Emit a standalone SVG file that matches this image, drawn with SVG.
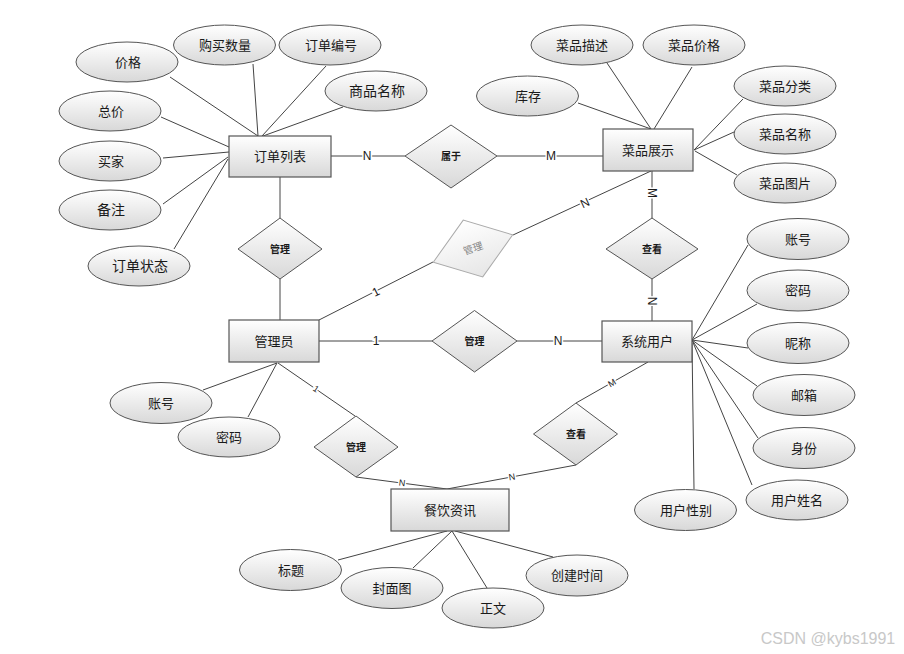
<svg xmlns="http://www.w3.org/2000/svg" width="904" height="654" viewBox="0 0 904 654">
<defs>
<linearGradient id="g" x1="0" y1="0" x2="0" y2="1">
<stop offset="0" stop-color="#ffffff"/>
<stop offset="1" stop-color="#d8d8d8"/>
</linearGradient>
<linearGradient id="gl" x1="0" y1="0" x2="0" y2="1">
<stop offset="0" stop-color="#ffffff"/>
<stop offset="1" stop-color="#e6e6e6"/>
</linearGradient>
</defs>
<style>
text{font-family:"Liberation Sans","Noto Sans CJK SC",sans-serif;fill:#1a1a1a;text-anchor:middle;dominant-baseline:central}
.e{fill:url(#g);stroke:#555;stroke-width:1}
.r{fill:url(#g);stroke:#555;stroke-width:1.2}
.d{fill:url(#g);stroke:#555;stroke-width:1}
.dg{fill:url(#gl);stroke:#aaa;stroke-width:1}
.t{font-size:13px}
.dt{font-size:10px;font-weight:bold}
.c line,.c path{stroke:#444;stroke-width:1;fill:none}
.lb{font-size:12px;stroke:#fff;stroke-width:3;paint-order:stroke}
.ls{font-size:9px;stroke:#fff;stroke-width:3;paint-order:stroke}
</style>
<rect width="904" height="654" fill="#fff"/>
<g class="c" id="connectors">
<path d="M170,77 L258,136 M253,64 L258,136 M326,66 L262,136 M343,107 L263,136 M161,117 L229,147 M163,158 L229,152 M163,204 L228,157 M174,249 L228,159"/>
<path d="M331,156 L405,156 M497,156 L603,156 M280,177 L280,218 M280,279 L280,320"/>
<path d="M578,103 L651,129 M607,63 L651,129 M692,67 L654,129 M743,99 L694,150 M734,132 L694,150 M737,175 L695,151"/>
<path d="M652,171 L652,219 M651,171 L513,235 M319,320 L433,262 M319,341 L432,341 M517,341 L602,341 M652,279 L652,321"/>
<path d="M277,363 L203,390 M277,363 L248,417 M278,363 L355,416 M356,477 L447,489 M576,465 L447,489 M576,403 L648,362"/>
<path d="M692,340 L748,245 M692,340 L757,304 M692,340 L748,348 M692,340 L757,386 M692,340 L758,438 M692,340 L752,485 M692,343 L694,489"/>
<path d="M447,531 L338,560 M452,531 L413,568 M452,531 L487,588 M455,531 L553,557"/>
<text class="lb" x="367" y="156">N</text>
<text class="lb" x="551" y="156">M</text>
<text class="lb" x="376" y="341">1</text>
<text class="lb" x="558" y="341">N</text>
<text class="lb" transform="translate(652,193) rotate(90)">M</text>
<text class="lb" transform="translate(652,301) rotate(90)">N</text>
<text class="lb" transform="translate(585,203) rotate(-25)">N</text>
<text class="lb" transform="translate(376,292) rotate(-27)">1</text>
<text class="ls" transform="translate(316,389) rotate(34)">1</text>
<text class="ls" transform="translate(612,383) rotate(-30)">M</text>
<text class="ls" transform="translate(402,483) rotate(7)">N</text>
<text class="ls" transform="translate(512,477) rotate(-10)">N</text>
</g>
<g id="e-dingdan"><rect class="r" x="229" y="136" width="102" height="41"/><text class="t" x="280" y="156">订单列表</text></g>
<g id="e-caipin"><rect class="r" x="603" y="129" width="90" height="42"/><text class="t" x="648" y="150">菜品展示</text></g>
<g id="e-admin"><rect class="r" x="229" y="320" width="90" height="42"/><text class="t" x="274" y="341">管理员</text></g>
<g id="e-user"><rect class="r" x="602" y="321" width="90" height="41"/><text class="t" x="647" y="341">系统用户</text></g>
<g id="e-news"><rect class="r" x="391" y="489" width="118" height="42"/><text class="t" x="450" y="510">餐饮资讯</text></g>
<g id="r-shuyu"><polygon class="d" points="405,156 451,125 497,156 451,188"/><text class="dt" x="451" y="156">属于</text></g>
<g id="r-guanli1"><polygon class="d" points="238,249 280,218 322,249 280,279"/><text class="dt" x="280" y="249">管理</text></g>
<g id="r-guanli-gray" transform="translate(473,248.5) rotate(-19)"><polygon class="dg" points="-42,0 0,-30 42,0 0,30"/><text class="dt" x="0" y="0" style="fill:#888;font-weight:normal">管理</text></g>
<g id="r-chakan1"><polygon class="d" points="606,249 652,218 698,249 652,279"/><text class="dt" x="652" y="249">查看</text></g>
<g id="r-guanli2"><polygon class="d" points="432,341 474.5,310.5 517,341 474.5,372"/><text class="dt" x="474.5" y="341">管理</text></g>
<g id="r-guanli3"><polygon class="d" points="314,447 356,416 398,447 356,477"/><text class="dt" x="356" y="447">管理</text></g>
<g id="r-chakan2"><polygon class="d" points="533.5,434 576,403 617.5,434 576,465"/><text class="dt" x="576" y="434">查看</text></g>
<g id="a-jiage"><ellipse class="e" cx="127" cy="62" rx="51" ry="20"/><text class="t" x="128" y="62">价格</text></g>
<g id="a-goumai"><ellipse class="e" cx="224.5" cy="45" rx="51" ry="20"/><text class="t" x="225" y="45">购买数量</text></g>
<g id="a-ddbh"><ellipse class="e" cx="330" cy="45" rx="51" ry="20"/><text class="t" x="331" y="45">订单编号</text></g>
<g id="a-spmc"><ellipse class="e" cx="376" cy="91" rx="51" ry="20"/><text class="t" x="377" y="91" style="font-size:14px">商品名称</text></g>
<g id="a-zongjia"><ellipse class="e" cx="110" cy="111" rx="51" ry="20"/><text class="t" x="111" y="111">总价</text></g>
<g id="a-maijia"><ellipse class="e" cx="110" cy="161" rx="51" ry="20"/><text class="t" x="111" y="161">买家</text></g>
<g id="a-beizhu"><ellipse class="e" cx="110" cy="210" rx="51" ry="20"/><text class="t" x="111" y="210" style="font-size:14px">备注</text></g>
<g id="a-ddzt"><ellipse class="e" cx="139" cy="266" rx="51" ry="20"/><text class="t" x="140" y="266" style="font-size:14px">订单状态</text></g>
<g id="a-kucun"><ellipse class="e" cx="527.5" cy="96" rx="51" ry="20"/><text class="t" x="528" y="96">库存</text></g>
<g id="a-cpms"><ellipse class="e" cx="582" cy="45" rx="51" ry="20"/><text class="t" x="582" y="45">菜品描述</text></g>
<g id="a-cpjg"><ellipse class="e" cx="694" cy="45" rx="51" ry="20"/><text class="t" x="694" y="45">菜品价格</text></g>
<g id="a-cpfl"><ellipse class="e" cx="785" cy="86" rx="51" ry="20"/><text class="t" x="785" y="86">菜品分类</text></g>
<g id="a-cpmc"><ellipse class="e" cx="785" cy="134" rx="51" ry="20"/><text class="t" x="785" y="134">菜品名称</text></g>
<g id="a-cptp"><ellipse class="e" cx="785" cy="183" rx="51" ry="20"/><text class="t" x="785" y="183">菜品图片</text></g>
<g id="a-admin-zh"><ellipse class="e" cx="161" cy="403" rx="51" ry="20.5"/><text class="t" x="161" y="403">账号</text></g>
<g id="a-admin-mm"><ellipse class="e" cx="229" cy="437" rx="51" ry="20"/><text class="t" x="229" y="437">密码</text></g>
<g id="a-u-zh"><ellipse class="e" cx="798" cy="239" rx="51" ry="20.5"/><text class="t" x="798" y="239">账号</text></g>
<g id="a-u-mm"><ellipse class="e" cx="798" cy="290.5" rx="51" ry="20.5"/><text class="t" x="798" y="290">密码</text></g>
<g id="a-u-nc"><ellipse class="e" cx="798" cy="343" rx="51" ry="20.5"/><text class="t" x="798" y="343">昵称</text></g>
<g id="a-u-yx"><ellipse class="e" cx="804" cy="395" rx="51" ry="20.5"/><text class="t" x="804" y="395">邮箱</text></g>
<g id="a-u-sf"><ellipse class="e" cx="804" cy="448" rx="51" ry="20.5"/><text class="t" x="804" y="448">身份</text></g>
<g id="a-u-xm"><ellipse class="e" cx="797" cy="500" rx="51" ry="20"/><text class="t" x="797" y="500">用户姓名</text></g>
<g id="a-u-xb"><ellipse class="e" cx="685.5" cy="510" rx="51" ry="20.5"/><text class="t" x="686" y="510">用户性别</text></g>
<g id="a-n-bt"><ellipse class="e" cx="290.5" cy="570" rx="51" ry="20.5"/><text class="t" x="291" y="570">标题</text></g>
<g id="a-n-fmt"><ellipse class="e" cx="392" cy="588" rx="51" ry="20.5"/><text class="t" x="392" y="588">封面图</text></g>
<g id="a-n-zw"><ellipse class="e" cx="493" cy="608" rx="51" ry="20"/><text class="t" x="493" y="608">正文</text></g>
<g id="a-n-cjsj"><ellipse class="e" cx="577" cy="575.5" rx="51" ry="20.5"/><text class="t" x="577" y="575">创建时间</text></g>
<text x="828" y="638" style="font-size:16px;fill:#c8c8c8">CSDN @kybs1991</text>
</svg>
